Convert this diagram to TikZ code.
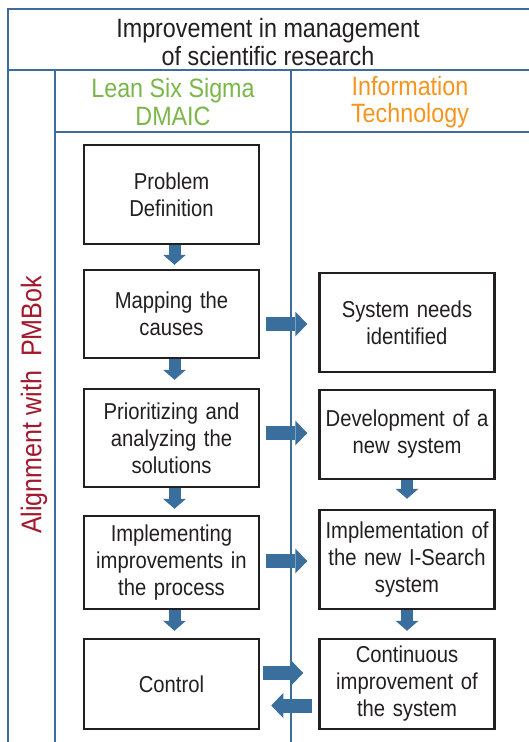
\documentclass[tikz,border=0pt]{standalone}
\usepackage{fontspec}
\setmainfont[FakeStretch=0.88]{Liberation Sans}
\usetikzlibrary{arrows.meta}
\definecolor{gridblue}{HTML}{3D6E9B}
\definecolor{boxline}{HTML}{231F20}
\definecolor{leangreen}{HTML}{7AB648}
\definecolor{itorange}{HTML}{F7941D}
\definecolor{pmred}{HTML}{A3182C}
\definecolor{arrowblue}{HTML}{3A6E9C}
\begin{document}
\begin{tikzpicture}[x=1pt,y=-1pt,
  grid/.style={draw=gridblue,line width=2pt},
  stepbox/.style={draw=boxline,line width=2.5pt,fill=white,minimum width=175pt,
    text width=172pt,align=center,inner sep=0pt,
    font=\fontsize{23}{27}\selectfont,text=boxline},
  downarrow/.style={draw=arrowblue,line width=12pt,
    -{Triangle[width=23pt,length=10pt,line width=0pt]}},
  sidearrow/.style={draw=arrowblue,line width=14pt,
    -{Triangle[width=25pt,length=12pt,line width=0pt]}},
  headtext/.style={align=center,inner sep=0pt,font=\fontsize{26.5}{27.5}\selectfont},
]
\useasboundingbox (0,0) rectangle (529,742);
\fill[white] (0,0) rectangle (529,742);

% grid
\draw[grid] (529,9) -- (8,9) -- (8,742);
\draw[grid] (8,70) -- (529,70);
\draw[grid] (55,742) -- (55,70);
\draw[grid] (55,132) -- (529,132);
\draw[grid] (291,70) -- (291,742);

% headers
\node[headtext,text=boxline] (title) at (268,42) {Improvement in management\\of scientific research};
\node[headtext,text=leangreen] (lean) at (173,102) {Lean Six Sigma\\DMAIC};
\node[headtext,text=itorange] (info) at (410,102) {Information\\Technology};
\node[rotate=90,text=pmred,inner sep=0pt,font=\fontsize{28.5}{28.5}\selectfont] (pmbok) at (34,405) {Alignment with\ \ PMBok};

% left column
\node[stepbox,minimum height=99pt] (l1) at (171.5,194.5) {Problem\\Definition};
\node[stepbox,minimum height=88pt] (l2) at (171.5,314) {Mapping the\\causes};
\node[stepbox,minimum height=98pt] (l3) at (171.5,438) {Prioritizing and\\analyzing the\\solutions};
\node[stepbox,minimum height=93pt] (l4) at (171.5,562.5) {Implementing\\improvements in\\the process};
\node[stepbox,minimum height=90pt] (l5) at (171.5,684) {Control};

% right column
\node[stepbox,minimum height=99pt] (r1) at (407,322.5) {System needs\\identified};
\node[stepbox,minimum height=89pt] (r2) at (407,434.5) {Development of a\\new system};
\node[stepbox,minimum height=99pt] (r3) at (407,559.5) {Implementation of\\the new I-Search\\system};
\node[stepbox,minimum height=90pt] (r4) at (407,684) {Continuous\\improvement of\\the system};

% down arrows
\draw[downarrow,shorten >=4pt] ([xshift=3pt]l1.south) -- ([xshift=3pt]l2.north);
\draw[downarrow,shorten >=8pt] ([xshift=3pt]l2.south) -- ([xshift=3pt]l3.north);
\draw[downarrow,shorten >=6pt] ([xshift=3pt]l3.south) -- ([xshift=3pt]l4.north);
\draw[downarrow,shorten >=7pt] ([xshift=3pt]l4.south) -- ([xshift=3pt]l5.north);
\draw[downarrow,shorten >=10pt] (r2.south) -- (r3.north);
\draw[downarrow,shorten >=7pt] (r3.south) -- (r4.north);

% side arrows
\coordinate (k1) at ([yshift=-10pt]l2.east);
\coordinate (k2) at ([yshift=5pt]l3.east);
\coordinate (k3) at ([yshift=1.5pt]l4.east);
\coordinate (k4) at ([yshift=11pt]l5.east);
\coordinate (k5) at ([yshift=-21.5pt]r4.west);
\draw[sidearrow,shorten <=6pt,shorten >=11pt] (k1) -- (k1 -| r1.west);
\draw[sidearrow,shorten <=6pt,shorten >=11pt] (k2) -- (k2 -| r2.west);
\draw[sidearrow,shorten <=6pt,shorten >=11pt] (k3) -- (k3 -| r3.west);
\draw[sidearrow,shorten <=3pt,shorten >=15pt] (k4) -- (k4 -| r4.west);
\draw[sidearrow,shorten <=6pt,shorten >=11pt] (k5) -- (k5 -| l5.east);
\end{tikzpicture}
\end{document}
